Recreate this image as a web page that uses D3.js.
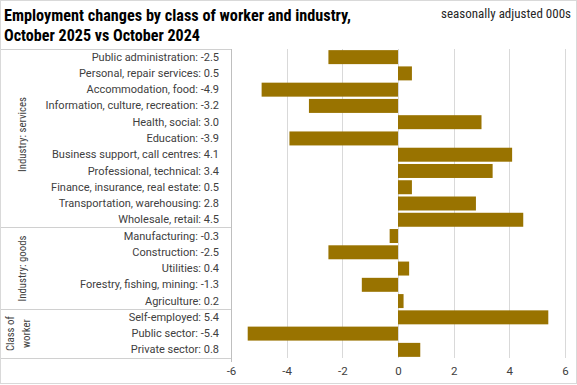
<!DOCTYPE html>
<html><head><meta charset="utf-8">
<script src="https://cdn.jsdelivr.net/npm/d3@7"></script>
<style>
body{margin:0;background:#fff;}
svg{display:block;}
text{font-family:"Liberation Sans Narrow","Arial Narrow","Roboto Condensed",Roboto,sans-serif;}
</style></head><body>
<svg id="c" width="577" height="385"></svg>
<script>
const categories = ["Public administration","Personal, repair services","Accommodation, food","Information, culture, recreation","Health, social","Education","Business support, call centres","Professional, technical","Finance, insurance, real estate","Transportation, warehousing","Wholesale, retail","Manufacturing","Construction","Utilities","Forestry, fishing, mining","Agriculture","Self-employed","Public sector","Private sector"];
const values = [-2.5,0.5,-4.9,-3.2,3.0,-3.9,4.1,3.4,0.5,2.8,4.5,-0.3,-2.5,0.4,-1.3,0.2,5.4,-5.4,0.8];
const groups = [["Industry: services"],["Industry: goods"],["Class of","worker"]];
const groupSizes = [11,5,3];
const xTicks = [-6,-4,-2,0,2,4,6];
const titleLines = ["Employment changes by class of worker and industry,","October 2025 vs October 2024"];
const subtitle = "seasonally adjusted 000s";

(function(){
const svg = d3.select("#c");
const W=577,H=385;
const barColor="#997300", gridColor="#d9d9d9", textColor="#404040";
const pTop=49, pBottom=358, pLeft=231, pRight=565;
const FONT='"Liberation Sans Narrow","Arial Narrow",Roboto,sans-serif';
const hy = s => s.replace(/\u2212/g,"-");

svg.append("rect").attr("x",0.5).attr("y",0.5).attr("width",W-1).attr("height",H-2)
  .attr("fill","#fff").attr("stroke","#d9d9d9");

const x = d3.scaleLinear().domain([-6,6]).range([pLeft,pRight]);
const y = d3.scaleBand().domain(categories).range([pTop,pBottom]).paddingInner(0.14).paddingOuter(0.07);

svg.append("g").selectAll("line").data(xTicks.filter(t=>t>-6)).join("line")
  .attr("x1",d=>Math.round(x(d))+0.5).attr("x2",d=>Math.round(x(d))+0.5).attr("y1",pTop).attr("y2",pBottom)
  .attr("stroke",gridColor).attr("stroke-width",1);

svg.append("g").selectAll("rect").data(values).join("rect")
  .attr("x",(d)=>x(Math.min(0,d)))
  .attr("width",d=>Math.abs(x(d)-x(0)))
  .attr("y",(d,i)=>y(categories[i]))
  .attr("height",y.bandwidth())
  .attr("fill",barColor);

const xAxis = d3.axisBottom(x).tickValues(xTicks).tickSize(0).tickFormat(d=>hy(d3.format("d")(d)));
const gx = svg.append("g").attr("transform",`translate(0,${pBottom+6})`).call(xAxis);
gx.select(".domain").remove();
gx.selectAll("text").attr("font-size",11.5).attr("fill",textColor).style("font-family",FONT);

const lineCol="#d0d0d0";
const box = svg.append("g").attr("stroke",lineCol).attr("stroke-width",1).attr("shape-rendering","crispEdges");
box.append("line").attr("x1",1).attr("x2",pLeft).attr("y1",pTop).attr("y2",pTop);
let acc=0;
const bounds=[0];
groupSizes.forEach(s=>{acc+=s;bounds.push(acc);});
bounds.slice(1).forEach(b=>{
  const yy = y.step()*b + pTop;
  box.append("line").attr("x1",1).attr("x2",pLeft).attr("y1",yy).attr("y2",yy);
});
box.append("line").attr("x1",pLeft).attr("x2",pLeft).attr("y1",pTop).attr("y2",pBottom+4).attr("stroke","#bfbfbf");

const yAxis = d3.axisLeft(y).tickSize(0).tickFormat(d=>`${d}: ${hy(d3.format(".1f")(values[categories.indexOf(d)]))}`);
const gy = svg.append("g").attr("transform",`translate(${pLeft-12},0)`).call(yAxis);
gy.select(".domain").remove();
gy.selectAll("text").attr("font-size",11).attr("fill",textColor).attr("x",0).style("font-family",FONT);

const groupOffsets=[-4,0,0];
groups.forEach((lines,gi)=>{
  const y0 = pTop + y.step()*bounds[gi], y1 = pTop + y.step()*bounds[gi+1];
  const cy=(y0+y1)/2 + groupOffsets[gi];
  const n=lines.length;
  lines.forEach((ln,li)=>{
    const cx = n===1 ? 22 : 10 + li*15.5;
    svg.append("text").attr("transform",`translate(${cx+4},${cy}) rotate(-90)`)
      .attr("text-anchor","middle").attr("font-size",10.8).attr("fill",textColor).text(ln);
  });
});

const titleW=[347,196];
titleLines.forEach((t,i)=>{
  svg.append("text").attr("x",4).attr("y",21+i*20).attr("font-size",17).attr("font-weight","bold")
    .attr("fill","#000").attr("textLength",titleW[i]).attr("lengthAdjust","spacingAndGlyphs").text(t);
});
svg.append("text").attr("x",571).attr("y",18).attr("text-anchor","end").attr("font-size",13)
  .attr("fill","#262626").text(subtitle);
})();
</script></body></html>
